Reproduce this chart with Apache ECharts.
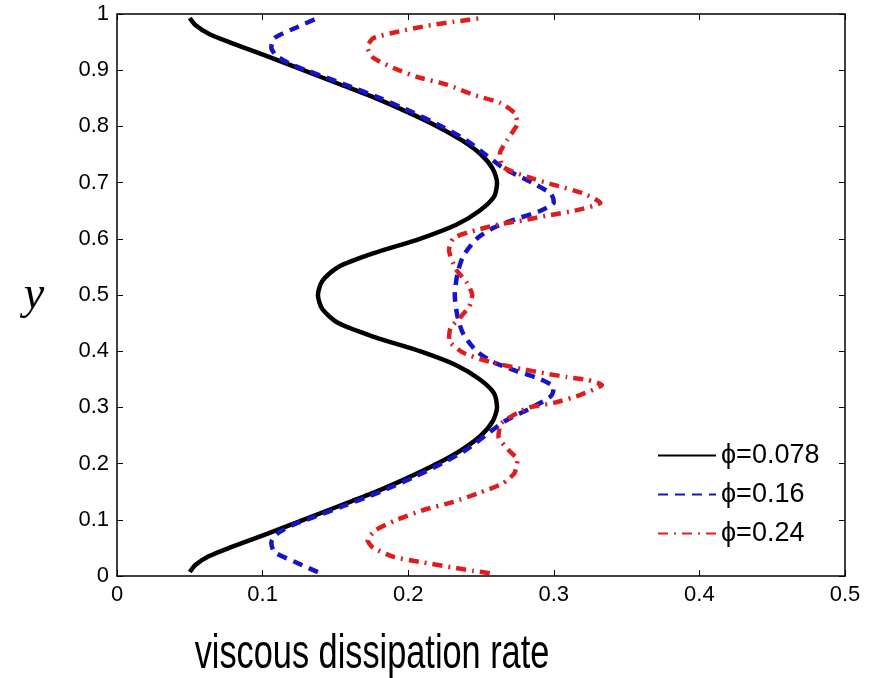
<!DOCTYPE html>
<html>
<head>
<meta charset="utf-8">
<script src="https://cdn.jsdelivr.net/npm/echarts@6/dist/echarts.min.js"></script>
<style>html,body{margin:0;padding:0;background:#fff}#c{width:874px;height:678px}</style>
</head>
<body>
<div id="c"></div>
<script>
// ---- data ----
var xTicks = [0, 0.1, 0.2, 0.3, 0.4, 0.5];
var yTicks = [0, 0.1, 0.2, 0.3, 0.4, 0.5, 0.6, 0.7, 0.8, 0.9, 1];
var seriesNames = ['ϕ=0.078', 'ϕ=0.16', 'ϕ=0.24'];

var phi078_y = [0.007,0.020,0.035,0.050,0.075,0.100,0.125,0.150,0.175,0.200,0.225,0.250,0.275,0.300,0.325,0.350,0.375,0.400,0.425,0.450,0.475,0.500,0.525,0.550,0.575,0.600,0.625,0.650,0.675,0.700,0.725,0.750,0.775,0.800,0.825,0.850,0.875,0.900,0.925,0.950,0.965,0.980,0.993];
var phi078_x = [0.050,0.054,0.063,0.077,0.103,0.128,0.153,0.178,0.200,0.220,0.237,0.250,0.258,0.261,0.259,0.249,0.233,0.208,0.177,0.152,0.141,0.138,0.141,0.152,0.177,0.208,0.233,0.249,0.259,0.261,0.258,0.250,0.237,0.220,0.200,0.178,0.153,0.128,0.103,0.077,0.063,0.054,0.050];

var phi016_y = [0.007,0.023,0.043,0.060,0.075,0.090,0.100,0.125,0.150,0.175,0.200,0.225,0.250,0.275,0.300,0.320,0.335,0.350,0.365,0.380,0.400,0.430,0.460,0.500,0.540,0.570,0.600,0.620,0.635,0.650,0.665,0.680,0.700,0.725,0.750,0.775,0.800,0.825,0.850,0.875,0.900,0.910,0.925,0.940,0.957,0.977,0.993];
var phi016_x = [0.138,0.124,0.108,0.106,0.110,0.120,0.130,0.156,0.181,0.203,0.223,0.240,0.253,0.266,0.285,0.298,0.300,0.291,0.274,0.259,0.247,0.238,0.234,0.232,0.234,0.238,0.247,0.259,0.274,0.291,0.300,0.298,0.285,0.266,0.253,0.240,0.223,0.203,0.181,0.156,0.130,0.120,0.110,0.106,0.108,0.124,0.138];

var phi024_y = [0.005,0.009,0.016,0.025,0.034,0.050,0.064,0.082,0.100,0.117,0.132,0.148,0.165,0.183,0.206,0.224,0.248,0.272,0.299,0.308,0.322,0.340,0.349,0.354,0.361,0.370,0.381,0.397,0.420,0.441,0.461,0.480,0.500,0.523,0.545,0.580,0.601,0.612,0.625,0.633,0.642,0.651,0.664,0.681,0.696,0.710,0.728,0.752,0.776,0.806,0.824,0.842,0.856,0.874,0.888,0.904,0.922,0.941,0.957,0.968,0.979,0.986,0.993];
var phi024_x = [0.256,0.245,0.229,0.208,0.190,0.176,0.172,0.178,0.192,0.210,0.231,0.249,0.265,0.273,0.275,0.269,0.262,0.264,0.282,0.300,0.318,0.333,0.323,0.309,0.293,0.275,0.256,0.238,0.228,0.229,0.236,0.242,0.244,0.240,0.233,0.228,0.231,0.242,0.261,0.279,0.297,0.316,0.332,0.320,0.300,0.282,0.265,0.263,0.268,0.275,0.273,0.263,0.245,0.227,0.206,0.190,0.176,0.172,0.176,0.192,0.213,0.231,0.251];

function zip(xs, ys) { return xs.map(function (v, i) { return [v, ys[i]]; }); }

var chart = echarts.init(document.getElementById('c'), null, { renderer: 'canvas' });
var FONT = 'Liberation Sans';
var axisLineStyle = { color: '#000', width: 1.5 };
function fmt(v) { return String(+v.toFixed(1)); }
function xAx(pos, show) {
  return {
    type: 'value', position: pos, min: xTicks[0], max: xTicks[xTicks.length - 1], interval: 0.1,
    axisLine: { show: true, onZero: false, lineStyle: axisLineStyle },
    axisTick: { show: true, inside: true, length: 6, lineStyle: { color: '#000', width: 1 } },
    axisLabel: { show: show, color: '#000', fontSize: 22, fontFamily: FONT, margin: 8, formatter: fmt },
    splitLine: { show: false }
  };
}
function yAx(pos, show) {
  return {
    type: 'value', position: pos, min: yTicks[0], max: yTicks[yTicks.length - 1], interval: 0.1,
    axisLine: { show: true, onZero: false, lineStyle: axisLineStyle },
    axisTick: { show: true, inside: true, length: 6, lineStyle: { color: '#000', width: 1 } },
    axisLabel: { show: show, color: '#000', fontSize: 22, fontFamily: FONT, margin: 8, formatter: fmt },
    splitLine: { show: false }
  };
}

var option = {
  backgroundColor: '#fff',
  animation: false,
  grid: { left: 117, right: 29, top: 14, bottom: 102, containLabel: false },
  xAxis: [xAx('bottom', true), xAx('top', false)],
  yAxis: [yAx('left', true), yAx('right', false)],
  legend: {
    orient: 'vertical', left: 652, top: 437,
    itemWidth: 58, itemHeight: 14, itemGap: 12,
    itemStyle: { color: 'rgba(0,0,0,0)', borderWidth: 0, opacity: 0 },
    textStyle: { color: '#000', fontSize: 27, fontFamily: FONT },
    data: seriesNames
  },
  series: [
    { name: seriesNames[0], type: 'line', symbol: 'none', smooth: 0.25,
      data: zip(phi078_x, phi078_y), z: 3,
      lineStyle: { color: '#000', width: 4.5, type: 'solid' }, itemStyle: { color: '#000' } },
    { name: seriesNames[1], type: 'line', symbol: 'none', smooth: 0.25,
      data: zip(phi016_x, phi016_y), z: 4,
      lineStyle: { color: '#1414c8', width: 4.5, type: [10, 7] }, itemStyle: { color: '#1414c8' } },
    { name: seriesNames[2], type: 'line', symbol: 'none', smooth: 0.2,
      data: zip(phi024_x, phi024_y), z: 5,
      lineStyle: { color: '#dc1e1e', width: 4.5, type: [10, 6, 2, 6] }, itemStyle: { color: '#dc1e1e' } }
  ],
  graphic: [
    { type: 'text', x: 372, y: 679, scaleX: 0.7,
      style: { text: 'viscous dissipation rate', fill: '#000', font: '49px "Liberation Sans"',
        textAlign: 'center', textVerticalAlign: 'bottom' } },
    { type: 'text', x: 34, y: 296,
      style: { text: 'y', fill: '#000', font: 'italic 46px "Liberation Serif"',
        textAlign: 'center', textVerticalAlign: 'middle' } }
  ]
};
chart.setOption(option);
</script>
</body>
</html>
